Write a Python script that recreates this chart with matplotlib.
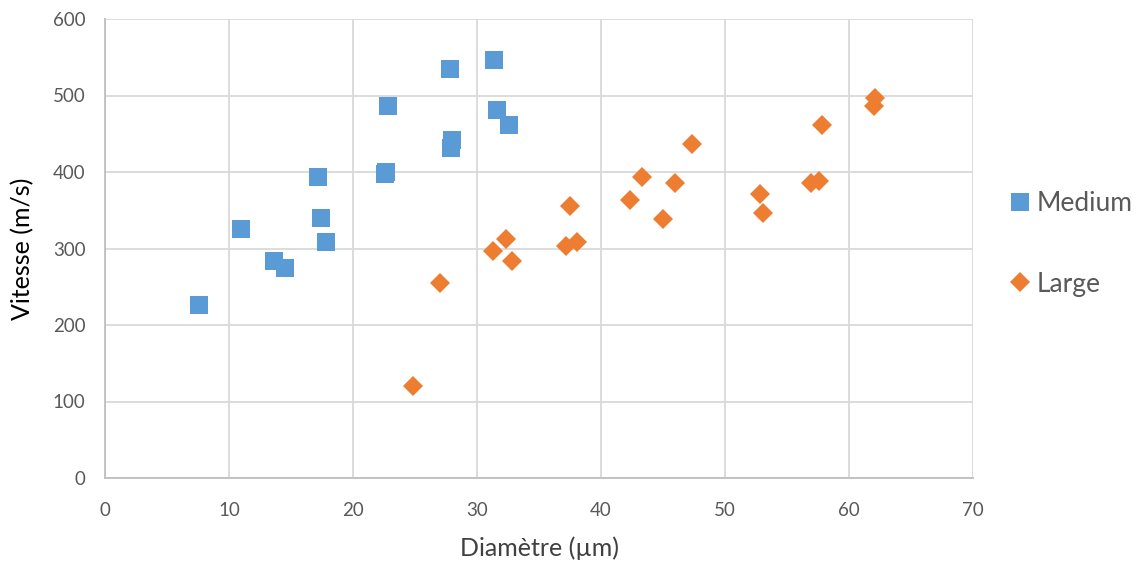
import matplotlib
matplotlib.use('Agg')
import matplotlib.pyplot as plt

# Medium droplets: diameter (um) vs speed (m/s)
medium_d = [27.8, 31.4, 22.8, 31.6, 32.6, 27.95, 27.9, 22.7, 22.6, 17.2, 17.4, 17.8, 11.0, 13.6, 14.5, 7.6]
medium_v = [534, 546, 486, 481, 462, 442, 432, 400, 397, 394, 340, 308, 325, 284, 274, 226]

# Large droplets
large_d = [24.8, 27.0, 31.3, 32.3, 32.8, 37.5, 37.15, 38.1, 42.3, 43.3, 45.0, 46.0, 47.3,
           52.8, 53.1, 56.9, 57.6, 57.8, 62.1, 62.0]
large_v = [120, 255, 297, 313, 284, 356, 303, 309, 364, 394, 339, 385, 437,
           371, 347, 385, 388, 461, 497, 486]

x_ticks = [0, 10, 20, 30, 40, 50, 60, 70]
y_ticks = [0, 100, 200, 300, 400, 500, 600]

plt.rcParams['font.family'] = ['Lato', 'DejaVu Sans']

fig = plt.figure(figsize=(11.45, 5.65), dpi=100)
ax = fig.add_axes([105 / 1145, 87 / 565, 868 / 1145, 459 / 565])

ax.plot(medium_d, medium_v, 's', color='#5B9BD5', markersize=12.5, markeredgewidth=0, label='Medium')
ax.plot(large_d, large_v, 'D', color='#ED7D31', markersize=10.2, markeredgewidth=0, label='Large')

ax.set_xlim(0, 70)
ax.set_ylim(0, 600)
ax.set_xticks(x_ticks)
ax.set_yticks(y_ticks)
ax.grid(True, color='#d9d9d9', linewidth=1.3)
ax.set_axisbelow(True)

for side in ['top', 'right']:
    ax.spines[side].set_visible(False)
for side in ['left', 'bottom']:
    ax.spines[side].set_color('#bfbfbf')
    ax.spines[side].set_linewidth(1.3)

ax.tick_params(length=0, labelsize=13.5, labelcolor='#595959')
ax.tick_params(axis='x', pad=17)
ax.tick_params(axis='y', pad=14)

ax.set_xlabel('Diamètre (µm)', fontsize=18, color='#404040', labelpad=13)
ax.set_ylabel('Vitesse (m/s)', fontsize=18, color='#000000', labelpad=13)

leg = ax.legend(loc='center left', bbox_to_anchor=(1.01, 0.51), frameon=False,
                fontsize=19, labelspacing=2.1, handletextpad=0.1, handlelength=1.1)
for t in leg.get_texts():
    t.set_color('#595959')

plt.savefig('out.png', dpi=100)
